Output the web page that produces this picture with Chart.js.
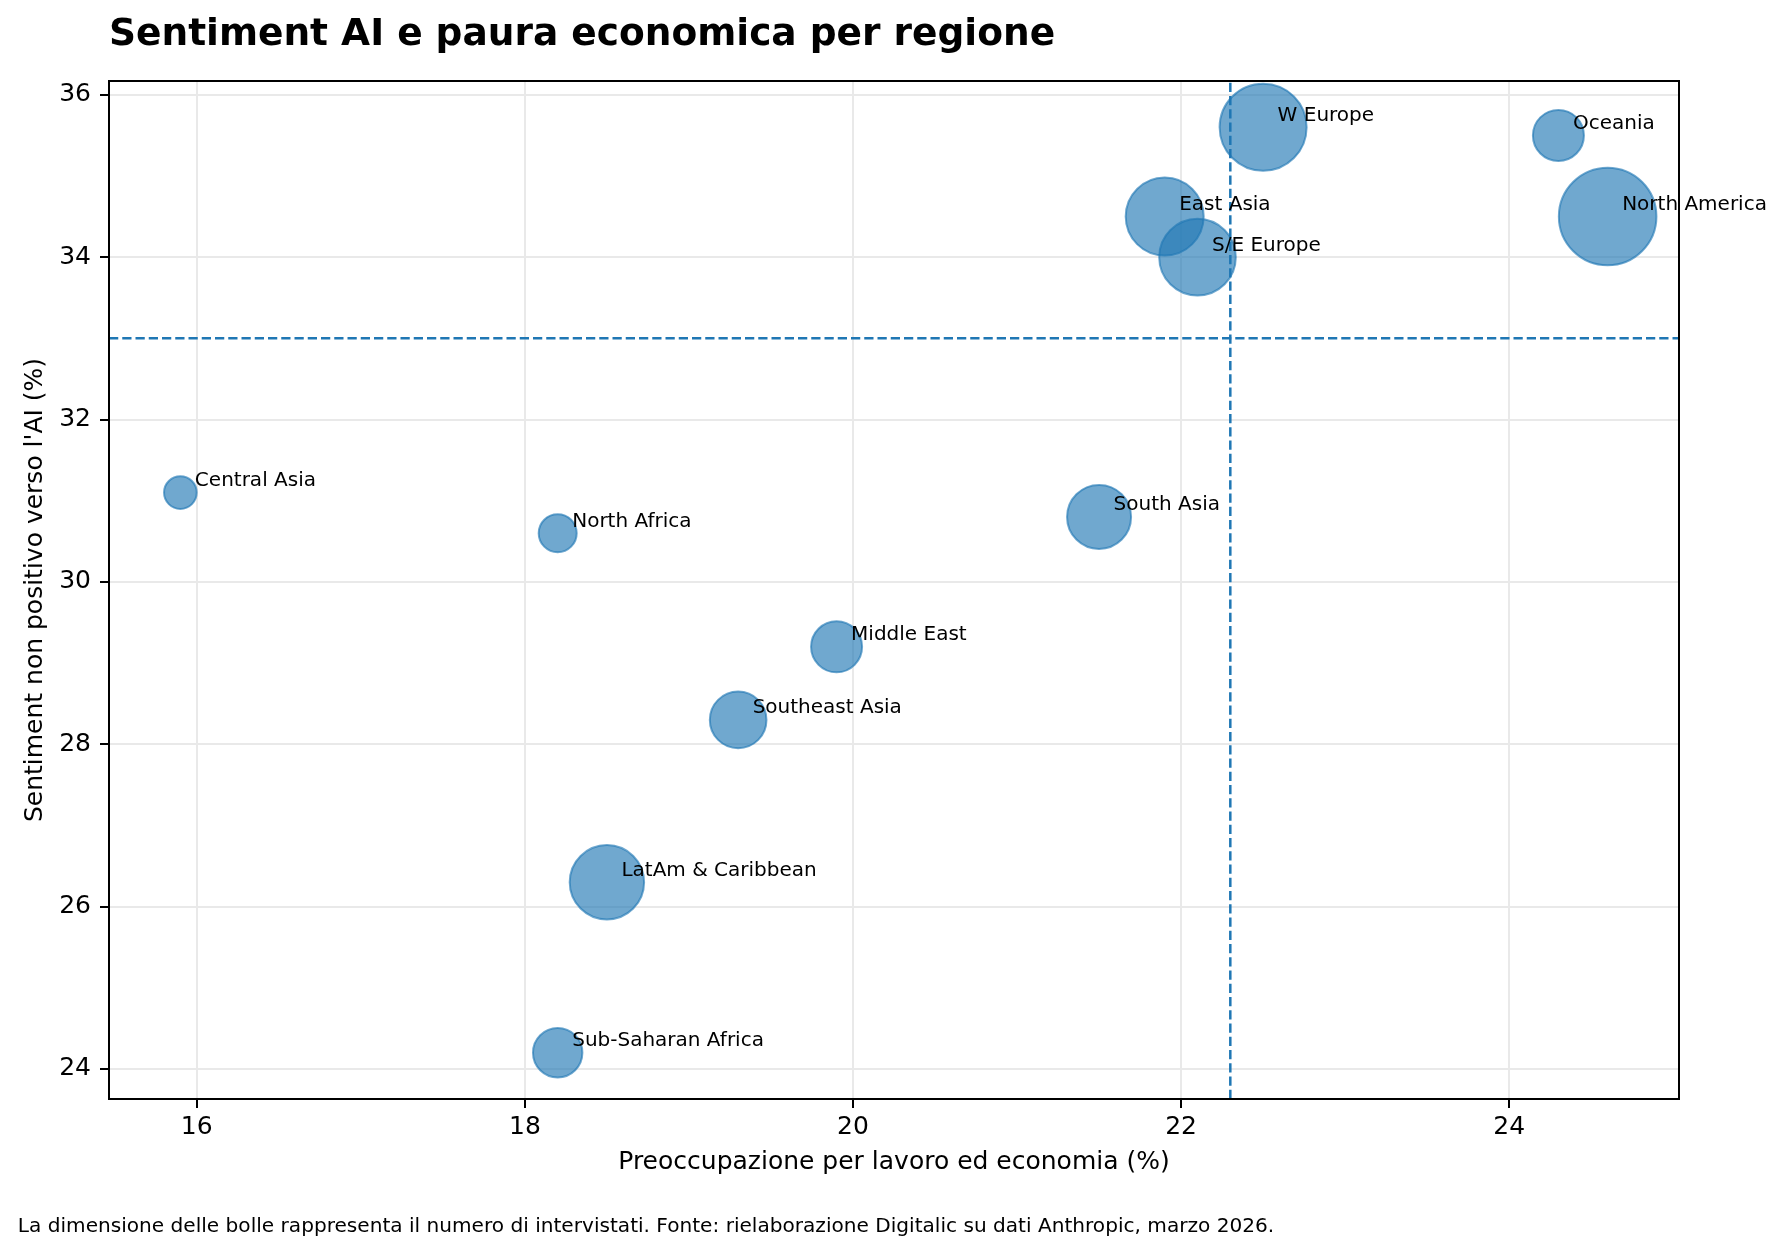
<!DOCTYPE html>
<html>
<head>
<meta charset="utf-8">
<script src="https://cdn.jsdelivr.net/npm/chart.js@4.4.1/dist/chart.umd.min.js"></script>
<style>
  html, body { margin: 0; padding: 0; background: #fff; }
</style>
</head>
<body>
<canvas id="grafico" width="1785" height="1252"></canvas>
<script>
// dati per regione
const regioni = ['Central Asia', 'North Africa', 'Middle East', 'Southeast Asia', 'LatAm & Caribbean',
  'Sub-Saharan Africa', 'South Asia', 'East Asia', 'S/E Europe', 'W Europe', 'Oceania', 'North America'];
const pauraEconomica = [15.9, 18.2, 19.9, 19.3, 18.5, 18.2, 21.5, 21.9, 22.1, 22.5, 24.3, 24.6];
const sentimentNonPositivo = [31.1, 30.6, 29.2, 28.3, 26.3, 24.2, 30.8, 34.5, 34.0, 35.6, 35.5, 34.5];
const intervistati = [1640, 2220, 4000, 4930, 8510, 3750, 6300, 9350, 9020, 11640, 4000, 14640];
const mediaX = 22.3;
const mediaY = 33.0;
const tickX = [16, 18, 20, 22, 24];
const tickY = [24, 26, 28, 30, 32, 34, 36];

const FONT = "'DejaVu Sans', sans-serif";
Chart.defaults.font.family = FONT;
Chart.defaults.color = '#000';

const punti = regioni.map((nome, i) => ({
  x: pauraEconomica[i],
  y: sentimentNonPositivo[i],
  r: Math.sqrt(intervistati[i] / 6.15)
}));

// linee medie, cornice, etichette, titolo e nota
const decorazioni = {
  id: 'decorazioni',
  afterDatasetsDraw(chart) {
    const { ctx, chartArea: a, scales: { x, y } } = chart;
    ctx.save();
    ctx.beginPath();
    ctx.rect(a.left, a.top, a.right - a.left, a.bottom - a.top);
    ctx.clip();
    ctx.strokeStyle = '#1f77b4';
    ctx.lineWidth = 2.5;
    ctx.setLineDash([9.25, 4]);
    const px = x.getPixelForValue(mediaX);
    ctx.beginPath(); ctx.moveTo(px, a.bottom); ctx.lineTo(px, a.top); ctx.stroke();
    const py = y.getPixelForValue(mediaY);
    ctx.beginPath(); ctx.moveTo(a.left, py); ctx.lineTo(a.right, py); ctx.stroke();
    ctx.restore();

    ctx.save();
    ctx.strokeStyle = '#000';
    ctx.lineWidth = 2;
    ctx.strokeRect(a.left, a.top, a.right - a.left, a.bottom - a.top);
    ctx.font = '20px ' + FONT;
    ctx.fillStyle = '#000';
    ctx.textBaseline = 'alphabetic';
    regioni.forEach((nome, i) => {
      ctx.fillText(nome, x.getPixelForValue(pauraEconomica[i]) + 14.5,
        y.getPixelForValue(sentimentNonPositivo[i]) - 6.5);
    });
    ctx.restore();
  },
  afterDraw(chart) {
    const { ctx } = chart;
    ctx.save();
    ctx.fillStyle = '#000';
    ctx.textBaseline = 'alphabetic';
    ctx.font = 'bold 37.5px ' + FONT;
    ctx.fillText('Sentiment AI e paura economica per regione', 109, 45);
    ctx.font = '20.1px ' + FONT;
    ctx.fillText('La dimensione delle bolle rappresenta il numero di intervistati. Fonte: rielaborazione Digitalic su dati Anthropic, marzo 2026.', 17.85, 1232);
    ctx.restore();
  }
};

const griglia = { color: '#e9e9e9', lineWidth: 2, drawTicks: true, tickLength: 9, tickColor: '#000', tickWidth: 2 };

new Chart(document.getElementById('grafico'), {
  type: 'bubble',
  data: {
    datasets: [{
      data: punti,
      backgroundColor: 'rgba(31,119,180,0.64)',
      borderColor: 'rgba(31,119,180,0.64)',
      borderWidth: 2
    }]
  },
  options: {
    responsive: false,
    animation: false,
    devicePixelRatio: 1,
    events: [],
    layout: { padding: { top: 81, right: 106, left: 0, bottom: 0 } },
    plugins: { legend: { display: false }, tooltip: { enabled: false } },
    scales: {
      x: {
        type: 'linear',
        position: 'bottom',
        min: 15.465,
        max: 25.035,
        afterBuildTicks: s => { s.ticks = tickX.map(v => ({ value: v })); },
        afterFit: s => { s.height = 153; },
        ticks: { padding: 4, font: { size: 25 }, callback: v => String(v) },
        grid: griglia,
        border: { display: true, color: '#000', width: 2 },
        title: {
          display: true,
          text: 'Preoccupazione per lavoro ed economia (%)',
          font: { size: 25 },
          padding: { top: 0, bottom: 75 }
        }
      },
      y: {
        type: 'linear',
        min: 23.63,
        max: 36.17,
        afterBuildTicks: s => { s.ticks = tickY.map(v => ({ value: v })); },
        afterFit: s => { s.width = 109; },
        ticks: { padding: 9, font: { size: 25 }, callback: v => String(v) },
        grid: griglia,
        border: { display: true, color: '#000', width: 2 },
        title: {
          display: true,
          text: "Sentiment non positivo verso l'AI (%)",
          font: { size: 25 },
          padding: { top: 20, bottom: 0 }
        }
      }
    }
  },
  plugins: [decorazioni]
});
</script>
</body>
</html>
